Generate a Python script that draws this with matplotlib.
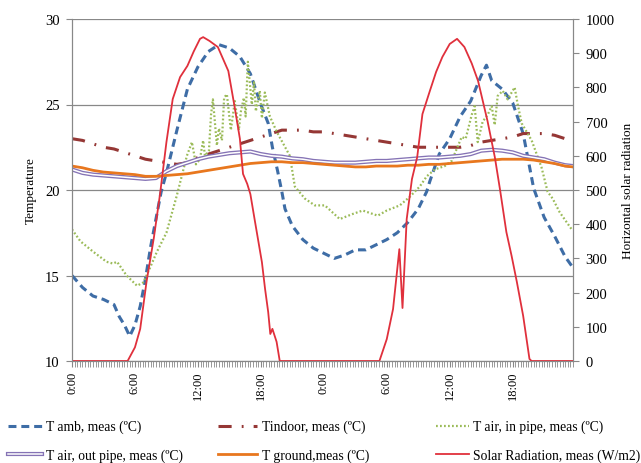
import numpy as np
import matplotlib
matplotlib.use("Agg")
import matplotlib.pyplot as plt
import matplotlib.patheffects as pe
from matplotlib.ticker import MultipleLocator, FixedLocator

plt.rcParams['font.family'] = ['Liberation Serif', 'DejaVu Serif']

# ---- data (hours from start of day 1) ----
tamb_h = [0, 1, 2, 3, 4, 4.5, 5, 5.5, 6, 6.5, 7, 7.5, 8, 8.5, 9, 10, 11, 12, 13, 14, 15, 16, 17, 18,
          18.7, 19.1, 19.6, 20, 20.3, 21, 22, 23, 24, 25, 26, 27, 28, 29, 30, 31, 32, 33, 33.8, 34.1,
          35, 36, 37, 38, 39, 39.5, 40, 41, 42, 43, 44, 45, 46, 47, 47.7]
tamb = [15.0, 14.3, 13.8, 13.6, 13.3, 12.6, 12.1, 11.45, 12.1, 13.2, 14.8, 16.7, 18.3, 19.9, 21.0,
        23.5, 25.9, 27.2, 28.1, 28.5, 28.3, 27.8, 26.8, 25.0, 23.9, 22.5, 21.1, 19.9, 18.9, 17.9,
        17.1, 16.6, 16.3, 16.0, 16.2, 16.5, 16.5, 16.8, 17.1, 17.5, 18.1, 18.9, 19.9, 20.5, 22.1,
        23.0, 24.3, 25.2, 26.7, 27.3, 26.4, 25.9, 25.1, 23.3, 20.1, 18.4, 17.3, 16.1, 15.5]

hours = list(range(48)) + [47.75]
tindoor = [23.0, 22.9, 22.7, 22.5, 22.4, 22.2, 22.0, 21.8, 21.7, 21.6, 21.5, 21.6, 21.9, 22.1, 22.3,
           22.5, 22.7, 22.9, 23.1, 23.3, 23.5, 23.5, 23.5, 23.4, 23.4, 23.3, 23.2, 23.1, 23.0, 22.9,
           22.8, 22.7, 22.6, 22.5, 22.5, 22.5, 22.5, 22.5, 22.6, 22.8, 22.9, 23.0, 23.1, 23.3, 23.3,
           23.3, 23.2, 23.0, 23.0]
tground = [21.4, 21.3, 21.15, 21.05, 21.0, 20.95, 20.9, 20.8, 20.8, 20.85, 20.9, 20.95, 21.05, 21.15,
           21.25, 21.35, 21.45, 21.55, 21.6, 21.65, 21.65, 21.6, 21.6, 21.55, 21.5, 21.45, 21.4, 21.35,
           21.35, 21.4, 21.4, 21.4, 21.45, 21.45, 21.5, 21.5, 21.55, 21.6, 21.65, 21.7, 21.75, 21.8,
           21.8, 21.8, 21.75, 21.65, 21.55, 21.4, 21.35]
tout = [21.2, 21.0, 20.9, 20.85, 20.8, 20.75, 20.7, 20.65, 20.7, 21.1, 21.4, 21.6, 21.8, 21.95, 22.05,
        22.15, 22.2, 22.25, 22.1, 22.0, 21.95, 21.85, 21.8, 21.7, 21.65, 21.6, 21.6, 21.6, 21.65, 21.7,
        21.7, 21.75, 21.8, 21.85, 21.9, 21.9, 21.95, 22.0, 22.1, 22.3, 22.35, 22.3, 22.2, 22.0, 21.9,
        21.8, 21.6, 21.45, 21.4]

tin_h = [0, 0.8, 2, 3.3, 3.9, 4.3, 5.2, 6.2, 6.8, 7.4, 8.1, 9, 10, 10.95, 11.43, 11.81, 12.19, 12.5,
         12.67, 13.05, 13.25, 13.43, 13.81, 14.0, 14.29, 14.5, 14.76, 15.14, 15.52, 15.9, 16.1, 16.38,
         16.55, 16.76, 17.14, 17.35, 17.52, 17.9, 18.1, 18.38, 18.86, 19.52, 20.76, 21.24, 22.19,
         23.14, 24.1, 25.52, 26.76, 27.71, 29.14, 30.0, 31.24, 32.19, 33.14, 33.81, 34.57, 35.52,
         36.19, 37.14, 37.52, 38.1, 38.38, 38.67, 39.14, 39.62, 40.0, 40.29, 40.57, 41.05, 41.52, 41.9,
         42.19, 42.48, 42.86, 43.81, 44.76, 45.33, 45.81, 46.48, 47.62]
tin = [17.7, 17.0, 16.4, 15.8, 15.7, 15.8, 15.0, 14.4, 14.6, 15.4, 16.4, 17.5, 19.7, 22.0, 22.8, 21.5,
       21.8, 22.9, 22.0, 22.3, 24.4, 25.3, 22.6, 23.6, 22.9, 25.4, 25.6, 23.5, 25.2, 23.5, 24.6, 25.4,
       24.3, 27.5, 25.0, 26.3, 24.6, 25.8, 24.2, 25.7, 24.3, 23.4, 22.0, 20.2, 19.5, 19.1, 19.1, 18.3,
       18.6, 18.8, 18.5, 18.8, 19.1, 19.6, 20.2, 20.8, 21.2, 21.4, 21.7, 23.1, 23.0, 24.4, 24.9, 22.8,
       24.0, 24.4, 24.9, 23.8, 25.5, 25.8, 25.3, 25.7, 26.0, 25.0, 23.9, 22.9, 21.3, 19.9, 19.5, 18.7,
       17.7]

sol_h = [0, 5.3, 6.0, 6.5, 7.1, 7.8, 8.4, 9.0, 9.6, 10.3, 11.0, 11.6, 12.2, 12.5, 13.1, 13.9, 14.9, 15.5,
         16.0, 16.3, 16.7, 17.0, 17.4, 18.1, 18.4, 18.7, 18.9, 19.1, 19.5, 19.8, 29.3, 30.0, 30.6, 31.2,
         31.5, 31.9, 32.4, 32.9, 33.4, 34.1, 34.7, 35.3, 36.0, 36.7, 37.4, 38.1, 38.7, 39.6, 40.3, 40.8,
         41.4, 41.9, 42.4, 43.0, 43.6, 43.8, 47.75]
sol = [0, 0, 40, 94, 231, 360, 490, 640, 766, 830, 863, 905, 942, 947, 936, 918, 848, 743, 650, 547, 518,
       488, 415, 289, 211, 143, 79, 94, 56, 0, 0, 64, 152, 327, 155, 415, 532, 596, 722, 789, 845, 889,
       927, 942, 918, 870, 819, 702, 596, 500, 377, 307, 231, 132, 6, 0, 0]

tick_labels = ['0:00', '6:00', '12:00', '18:00', '0:00', '6:00', '12:00', '18:00']

# ---- plot ----
fig = plt.figure(figsize=(6.41, 4.64), dpi=100)
ax = fig.add_axes([72 / 641, 1 - 362 / 464, (573 - 72) / 641, (362 - 20) / 464])
ax2 = ax.twinx()

grey = '#888888'
l_amb, = ax.plot(tamb_h, tamb, color='#3E6DA6', lw=2.2, ls=(0, (2.6, 1.6)), label='T amb, meas (ºC)')
l_ind, = ax.plot(hours, tindoor, color='#953735', lw=2.2, ls=(0, (4.3, 3.3, 0.6, 3.3)),
                 label='Tindoor, meas (ºC)')
l_in, = ax.plot(tin_h, tin, color='#9BBB59', lw=1.6, ls=(0, (0.8, 1.0)), label='T air, in pipe, meas (ºC)')
l_out, = ax.plot(hours, tout, color='white', lw=1.1,
                 path_effects=[pe.Stroke(linewidth=3.0, foreground='#8573B5'), pe.Normal()],
                 label='T air, out pipe, meas (ºC)')
l_gr, = ax.plot(hours, tground, color='#E8771E', lw=2.0, label='T ground,meas (ºC)')
l_sol, = ax2.plot(sol_h, sol, color='#E0303C', lw=1.3, label='Solar Radiation, meas (W/m2)')

ax.set_xlim(0, 47.75)
ax.set_ylim(10, 30)
ax2.set_ylim(0, 1000)
ax.yaxis.set_major_locator(MultipleLocator(5))
ax2.yaxis.set_major_locator(MultipleLocator(100))
ax.xaxis.set_major_locator(FixedLocator([0, 6, 12, 18, 24, 30, 36, 42]))
ax.xaxis.set_minor_locator(MultipleLocator(0.25))
ax.set_xticklabels(tick_labels, rotation=90, fontsize=9)
ax.grid(axis='y', color=grey, lw=0.9)
ax.set_axisbelow(True)

for a in (ax, ax2):
    for s in a.spines.values():
        s.set_color(grey)
    a.spines['top'].set_visible(False)
ax.tick_params(axis='y', labelsize=10.5, length=4, color=grey, pad=5)
ax2.tick_params(axis='y', labelsize=10.5, length=4, color=grey, pad=5)
ax.tick_params(axis='x', which='both', length=4, color=grey, pad=3)

fig.text(31 / 641, 1 - 191 / 464, 'Temperature', rotation=90, ha='center', va='center', fontsize=9.5)
fig.text(628 / 641, 1 - 191 / 464, 'Horizontal solar radiation', rotation=90, ha='center', va='center',
         fontsize=9.5)

cols = [([l_amb, l_out], 8, 2.5), ([l_ind, l_gr], 218, 2.9), ([l_in, l_sol], 436, 2.4)]
for hs, x0, hl in cols:
    fig.legend(handles=hs, loc='upper left', bbox_to_anchor=(x0 / 641, 1 - 421 / 464), frameon=False,
               fontsize=9.8, borderpad=0, borderaxespad=0, handlelength=hl, handletextpad=0.3,
               labelspacing=1.1)

fig.savefig('out.png', dpi=100)
